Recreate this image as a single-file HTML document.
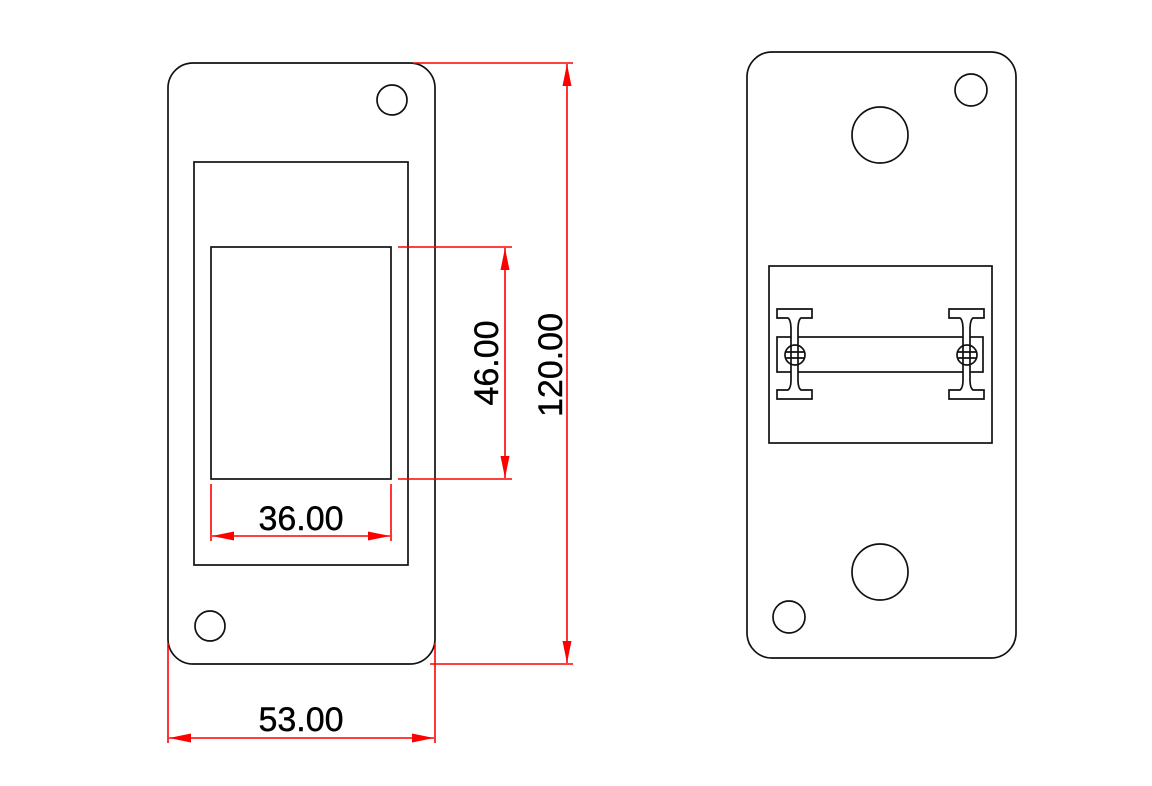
<!DOCTYPE html>
<html><head><meta charset="utf-8"><style>html,body{margin:0;padding:0;background:#fff}svg{display:block}</style></head>
<body>
<svg width="1152" height="786" viewBox="0 0 1152 786" xmlns="http://www.w3.org/2000/svg">
<defs>
<marker id="a" viewBox="0 0 22 9" refX="22" refY="4.5" markerWidth="22" markerHeight="9" markerUnits="userSpaceOnUse" orient="auto-start-reverse"><path d="M0,0 L22,4.5 L0,9 Z" fill="#f00"/></marker>
</defs>
<g fill="none" stroke="#111" stroke-width="1.7">
<rect x="168" y="63" width="267" height="601" rx="25"/>
<circle cx="392" cy="100" r="15"/>
<circle cx="210" cy="626" r="15"/>
<rect x="194" y="162" width="214" height="403"/>
<rect x="211" y="247" width="180" height="232"/>

<rect x="747" y="52" width="269" height="606" rx="25"/>
<circle cx="971" cy="90" r="16"/>
<circle cx="880" cy="135" r="28"/>
<circle cx="880" cy="572" r="28"/>
<circle cx="789" cy="617" r="16"/>
<rect x="769" y="266" width="223" height="177"/>
<rect x="777" y="337" width="206" height="35"/>
<g id="ib">
<path d="M777,309 H812 V318 H801 Q798,320 798,330 V380 Q798,388 801,390 H812 V399 H777 V390 H788 Q791,388 791,380 V330 Q791,320 788,318 H777 Z" fill="#fff"/>
<circle cx="795" cy="355" r="10" fill="#fff"/>
<line x1="785" y1="352" x2="805" y2="352"/><line x1="785" y1="358" x2="805" y2="358"/>
<line x1="791" y1="345" x2="791" y2="365"/><line x1="798" y1="345" x2="798" y2="365"/>
</g>
<use href="#ib" transform="translate(172,0)"/>
</g>
<g stroke="#f00" stroke-width="1.6" fill="none">
<line x1="413" y1="63" x2="573" y2="63"/>
<line x1="430" y1="664" x2="573" y2="664"/>
<line x1="567" y1="64" x2="567" y2="663" marker-start="url(#a)" marker-end="url(#a)"/>
<line x1="398" y1="247" x2="512" y2="247"/>
<line x1="398" y1="479" x2="512" y2="479"/>
<line x1="505" y1="248" x2="505" y2="478" marker-start="url(#a)" marker-end="url(#a)"/>
<line x1="211" y1="484" x2="211" y2="541"/>
<line x1="391" y1="484" x2="391" y2="541"/>
<line x1="212" y1="536" x2="390" y2="536" marker-start="url(#a)" marker-end="url(#a)"/>
<line x1="168" y1="643" x2="168" y2="743"/>
<line x1="435" y1="643" x2="435" y2="743"/>
<line x1="169" y1="738" x2="434" y2="738" marker-start="url(#a)" marker-end="url(#a)"/>
</g>
<g font-family="Liberation Sans, sans-serif" font-size="34" fill="#000" stroke="#000" stroke-width="0.4" text-anchor="middle">
<text x="301" y="530">36.00</text>
<text x="301" y="731">53.00</text>
<text transform="translate(498,363) rotate(-90)">46.00</text>
<text transform="translate(562,365) rotate(-90)">120.00</text>
</g>
</svg>
</body></html>
